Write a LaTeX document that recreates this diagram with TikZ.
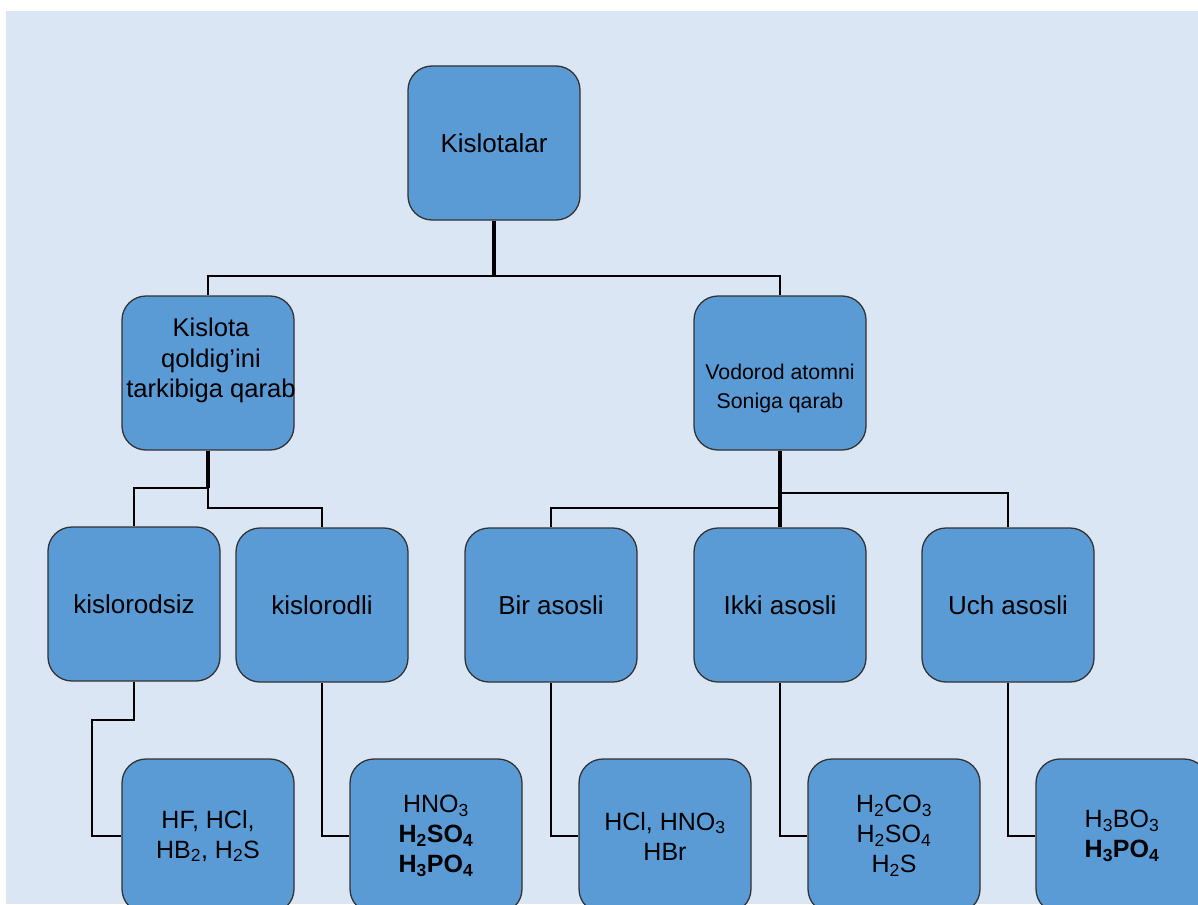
\documentclass[tikz,border=0pt]{standalone}
\usepackage{fontspec}
\setmainfont{Liberation Sans}
\definecolor{bgblue}{HTML}{DAE6F3}
\definecolor{boxblue}{HTML}{5B9BD5}
\definecolor{edgegray}{HTML}{333333}
\newcommand{\sbs}[1]{\textsubscript{#1}}
\begin{document}
\begin{tikzpicture}[x=1pt,y=-1pt,
  box/.style={rectangle, rounded corners=24pt, fill=boxblue, draw=edgegray,
    line width=1.3pt, minimum width=172pt, minimum height=154pt, inner sep=0pt,
    align=center, font=\fontsize{26}{30}\selectfont, text=black},
  formbox/.style={box, font=\fontsize{25}{30}\selectfont},
  trunk/.style={line width=4.5pt},
  branch/.style={line width=2.6pt},
]
\clip (0,0) rectangle (1198,904);
\fill[white] (0,0) rectangle (1198,904);
\fill[bgblue] (6,11) rectangle (1198,904);

% level 1
\node[box] (top) at (494,143) {Kislotalar};
% level 2
\node[box, font=\fontsize{25.6}{30.5}\selectfont] (kq) at (208,373) {\raisebox{12pt}[\height][\depth]{\makebox[160pt]{\hspace*{6pt}\begin{tabular}{@{}c@{}}Kislota\\qoldig’ini\\tarkibiga qarab\end{tabular}}}};
\node[box, font=\fontsize{21.3}{29}\selectfont] (vs) at (780,373) {\raisebox{-15pt}[\height][\depth]{\begin{tabular}{@{}c@{}}Vodorod atomni\\Soniga qarab\end{tabular}}};
% level 3
\node[box] (ksz) at (134,604) {kislorodsiz};
\node[box] (kl) at (322,605) {kislorodli};
\node[box] (bir) at (551,605) {Bir asosli};
\node[box] (ikki) at (780,605) {Ikki asosli};
\node[box] (uch) at (1008,605) {Uch asosli};
% level 4
\node[formbox] (f1) at (208,836) {HF, HCl,\\HB\sbs{2}, H\sbs{2}S};
\node[formbox] (f2) at (436,836) {HNO\sbs{3}\\\textbf{H\sbs{2}SO\sbs{4}}\\\textbf{H\sbs{3}PO\sbs{4}}};
\node[formbox] (f3) at (665,836) {HCl, HNO\sbs{3}\\HBr};
\node[formbox] (f4) at (894,836) {H\sbs{2}CO\sbs{3}\\H\sbs{2}SO\sbs{4}\\H\sbs{2}S};
\node[formbox] (f5) at (1122,836) {H\sbs{3}BO\sbs{3}\\\textbf{H\sbs{3}PO\sbs{4}}};

% junctions
\coordinate (j0) at (494,276);
\coordinate (j1) at (208,488);
\coordinate (j2) at (208,508);
\coordinate (j3) at (780,493);
\coordinate (j4) at (780,508);
\coordinate (k1) at (92,720);

% connectors
\draw[trunk] (top.south) -- (j0);
\draw[branch] (j0) -| (kq.north);
\draw[branch] (j0) -| (vs.north);

\draw[trunk] (kq.south) -- (j1);
\draw[branch] (j1) -| (ksz.north);
\draw[branch] (j1) -- (j2) -| (kl.north);

\draw[trunk] (vs.south) -- (ikki.north);
\draw[branch] (j3) -| (uch.north);
\draw[branch] (j4) -| (bir.north);

\draw[branch] (ksz.south) |- (k1) |- (f1.west);
\draw[branch] (kl.south) |- (f2.west);
\draw[branch] (bir.south) |- (f3.west);
\draw[branch] (ikki.south) |- (f4.west);
\draw[branch] (uch.south) |- (f5.west);
\end{tikzpicture}
\end{document}
